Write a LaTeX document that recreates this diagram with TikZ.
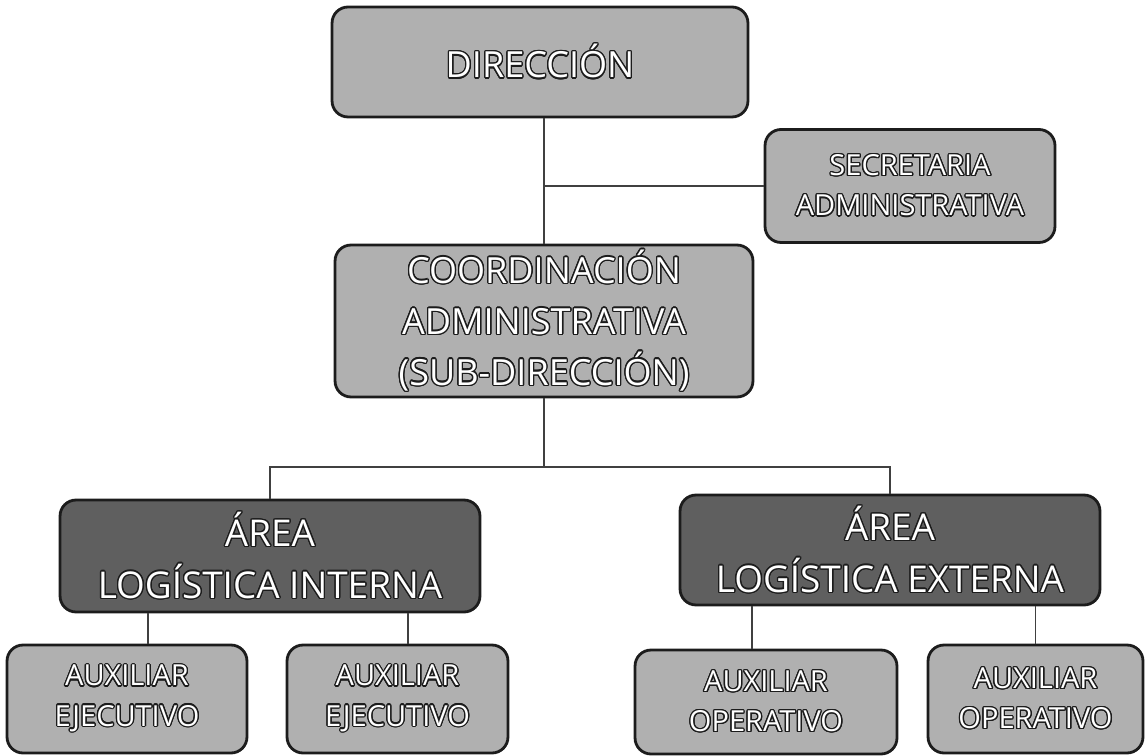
\documentclass[tikz,border=0pt]{standalone}
\usepackage{fontspec}
\setmainfont{Open Sans}
\usepackage[copies]{contour}
\contourlength{0.75pt}
\contournumber{16}

\definecolor{boxlight}{RGB}{176,176,176}
\definecolor{boxdark}{RGB}{95,95,95}
\definecolor{boxline}{RGB}{28,28,28}
\newcommand{\outl}[1]{\contour{boxline}{#1}}

\tikzset{
  box/.style={draw=boxline, line width=1.6pt, rounded corners=0.32cm,
    text=white, align=center, inner sep=0pt},
  lightbox/.style={box, fill=boxlight},
  darkbox/.style={box, fill=boxdark},
  bigtext/.style={font=\fontsize{20.5}{29}\selectfont},
  areatext/.style={font=\fontsize{21}{29.5}\selectfont},
  smalltext/.style={font=\fontsize{16.5}{22.8}\selectfont},
  link/.style={draw=black!75, line width=0.6pt},
}

\begin{document}
\begin{tikzpicture}[x=0.02cm, y=-0.02cm]
\useasboundingbox (0,0) rectangle (1145,756);

% upper levels
\node[lightbox, bigtext, minimum width=8.32cm, minimum height=2.2cm] (dir) at (540,62)
  {\outl{DIRECCIÓN}};
\node[lightbox, smalltext, minimum width=5.8cm, minimum height=2.26cm] (sec) at (910,186)
  {\outl{SECRETARIA}\\\outl{ADMINISTRATIVA}};
\node[lightbox, bigtext, minimum width=8.36cm, minimum height=3.04cm] (coord) at (544,321)
  {\outl{COORDINACIÓN}\\\outl{ADMINISTRATIVA}\\\outl{(SUB-DIRECCIÓN)}};

% areas
\node[darkbox, areatext, minimum width=8.4cm, minimum height=2.24cm] (ali) at (270,556)
  {\outl{ÁREA}\\\outl{LOGÍSTICA INTERNA}};
\node[darkbox, areatext, minimum width=8.4cm, minimum height=2.2cm] (ale) at (890,550)
  {\outl{ÁREA}\\\outl{LOGÍSTICA EXTERNA}};

% auxiliares
\node[lightbox, smalltext, minimum width=4.8cm, minimum height=2.16cm] (ej1) at (127,699)
  {\outl{AUXILIAR}\\\outl{EJECUTIVO}};
\node[lightbox, smalltext, minimum width=4.42cm, minimum height=2.16cm] (ej2) at (397.5,699)
  {\outl{AUXILIAR}\\\outl{EJECUTIVO}};
\node[lightbox, smalltext, minimum width=5.24cm, minimum height=2.08cm] (op1) at (766,702)
  {\outl{AUXILIAR}\\\outl{OPERATIVO}};
\node[lightbox, smalltext, minimum width=4.3cm, minimum height=2.16cm] (op2) at (1035.5,699)
  {\outl{AUXILIAR}\\\outl{OPERATIVO}};

% connectors
\coordinate (bus) at (544,467);
\draw[link] (coord.north |- dir.south) -- (coord.north);
\draw[link] (sec.west) -- (sec.west -| coord.north);
\draw[link] (coord.south) -- (bus);
\draw[link] (ali.north) |- (bus) -| (ale.north);
\draw[link] ([xshift=0.42cm]ej1.north) -- ([xshift=0.42cm]ej1.north |- ali.south);
\draw[link] ([xshift=0.21cm]ej2.north) -- ([xshift=0.21cm]ej2.north |- ali.south);
\draw[link] ([xshift=-0.28cm]op1.north) -- ([xshift=-0.28cm]op1.north |- ale.south);
\draw[link] (op2.north) -- (op2.north |- ale.south);
\end{tikzpicture}
\end{document}
